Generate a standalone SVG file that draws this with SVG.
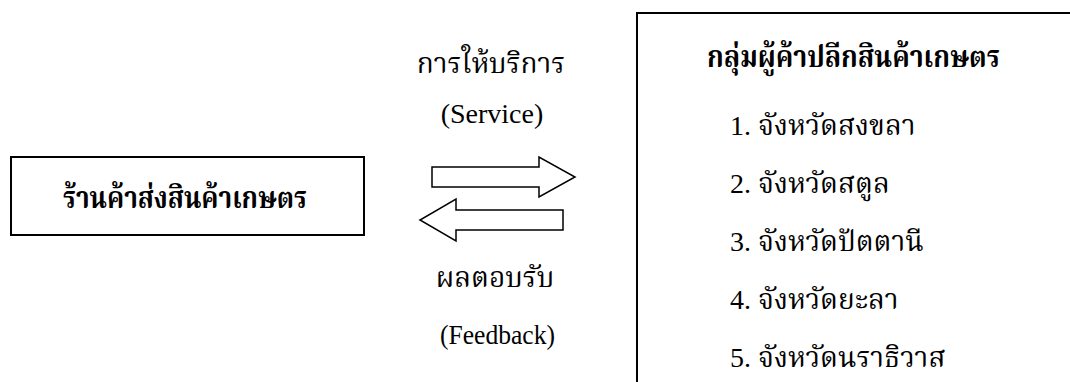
<svg xmlns="http://www.w3.org/2000/svg" width="1070" height="382" viewBox="0 0 1070 382">
  <style>
    .box { fill: #fff; stroke: #000; stroke-width: 2; }
    .arrow { fill: #fff; stroke: #000; stroke-width: 1.5; stroke-linejoin: miter; }
    text { font-family: "Liberation Serif", "Noto Serif Thai", "Noto Sans Thai", "Angsana New", "TH Sarabun New", "Garuda", serif; fill: #000; }
    .head { font-size: 30px; font-weight: bold; }
    .lbl { font-size: 28px; }
    .item { font-size: 28px; }
  </style>
  <rect width="1070" height="382" fill="#fff"/>

  <!-- wholesale shop -->
  <g id="wholesale">
    <rect class="box" x="11" y="157" width="353" height="78"/>
    <text class="head" x="63" y="208" textLength="244" lengthAdjust="spacingAndGlyphs">ร้านค้าส่งสินค้าเกษตร</text>
  </g>

  <!-- retailer group, box runs off the right and bottom edges -->
  <g id="retailers">
    <rect class="box" x="637" y="13" width="460" height="400"/>
    <text class="head" x="707" y="67" textLength="293" lengthAdjust="spacingAndGlyphs">กลุ่มผู้ค้าปลีกสินค้าเกษตร</text>
    <text class="item" x="730" y="135">1. จังหวัดสงขลา</text>
    <text class="item" x="730" y="193">2. จังหวัดสตูล</text>
    <text class="item" x="730" y="251">3. จังหวัดปัตตานี</text>
    <text class="item" x="730" y="309">4. จังหวัดยะลา</text>
    <text class="item" x="730" y="367">5. จังหวัดนราธิวาส</text>
  </g>

  <!-- service / feedback flows -->
  <g id="connectors">
    <polygon class="arrow" points="432,167 539,167 539,157 575,177 539,197 539,187 432,187"/>
    <polygon class="arrow" points="563,210 456,210 456,199 420,220 456,241 456,230 563,230"/>
    <text class="lbl" x="491" y="73" text-anchor="middle">การให้บริการ</text>
    <text class="lbl" x="492" y="123" text-anchor="middle">(Service)</text>
    <text class="lbl" x="495" y="287" text-anchor="middle">ผลตอบรับ</text>
    <text class="lbl" x="440" y="344" textLength="115" lengthAdjust="spacingAndGlyphs">(Feedback)</text>
  </g>
</svg>
